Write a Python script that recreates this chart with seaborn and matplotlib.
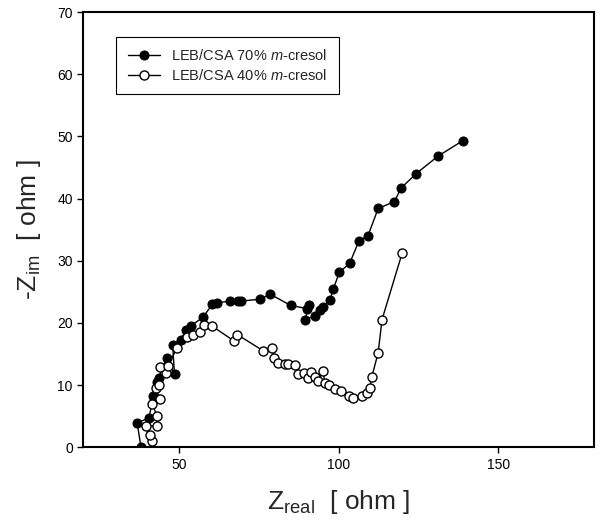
import seaborn as sns
import matplotlib.pyplot as plt
import pandas as pd

# LEB/CSA 70% m-cresol (filled)
z_real_70 = [38.1, 36.9, 40.6, 42.0, 43.0, 43.6, 46.2, 48.6, 48.0, 50.7, 52.1, 53.7, 57.5,
             60.5, 61.9, 65.9, 68.6, 69.5, 75.4, 78.6, 85.0, 90.0, 90.7, 89.5, 92.5, 94.3,
             95.1, 97.3, 98.4, 100.2, 103.5, 106.4, 109.2, 112.4, 117.5, 119.6, 124.3,
             131.1, 138.9]
z_im_70 = [0, 3.9, 4.7, 8.2, 10.5, 11.2, 14.4, 11.7, 16.5, 17.3, 18.9, 19.5, 20.9,
           23.0, 23.2, 23.5, 23.5, 23.5, 23.8, 24.6, 22.8, 22.3, 22.8, 20.5, 21.1, 22.1,
           22.5, 23.7, 25.5, 28.1, 29.6, 33.2, 34.0, 38.4, 39.5, 41.7, 44.0, 46.8, 49.3]

# LEB/CSA 40% m-cresol (open)
z_real_40 = [41.6, 40.8, 39.6, 43.0, 43.2, 41.6, 44.0, 42.8, 43.8, 45.9, 44.0, 46.5, 49.4,
             52.5, 54.5, 56.7, 57.8, 60.3, 67.2, 68.3, 76.4, 79.2, 79.8, 81.0, 83.2, 84.0,
             86.5, 87.4, 89.1, 90.3, 91.3, 92.7, 93.7, 95.1, 95.7, 96.9, 98.9, 100.8, 103.2,
             104.4, 107.4, 108.8, 109.7, 110.4, 112.4, 113.6, 119.9]
z_im_40 = [1.0, 2.0, 3.4, 3.4, 5.0, 6.9, 7.8, 9.5, 10.0, 11.9, 12.9, 13.0, 16.0,
           17.7, 18.1, 18.5, 19.6, 19.5, 17.1, 18.1, 15.5, 15.9, 14.4, 13.6, 13.4, 13.4,
           13.2, 11.7, 12.0, 11.2, 12.1, 11.3, 10.6, 12.2, 10.4, 10.0, 9.3, 9.0, 8.3,
           7.9, 8.3, 8.7, 9.5, 11.3, 15.2, 20.5, 31.2]

label_70 = 'LEB/CSA 70% $\\it{m}$-cresol'
label_40 = 'LEB/CSA 40% $\\it{m}$-cresol'

sns.set_style('ticks')
plt.rcParams['font.family'] = ['Liberation Sans', 'DejaVu Sans']
plt.rcParams['mathtext.fontset'] = 'custom'
plt.rcParams['mathtext.rm'] = 'Liberation Sans'
plt.rcParams['mathtext.it'] = 'Liberation Sans:italic'

df70 = pd.DataFrame({'x': z_real_70, 'y': z_im_70})
df40 = pd.DataFrame({'x': z_real_40, 'y': z_im_40})

fig = plt.figure(figsize=(6.03, 5.23), dpi=100)
ax = fig.add_axes([0.138, 0.145, 0.847, 0.832])

sns.lineplot(data=df70, x='x', y='y', sort=False, estimator=None, ax=ax,
             color='black', lw=1, marker='o', markersize=6.5,
             markerfacecolor='black', markeredgecolor='black', label=label_70)
sns.lineplot(data=df40, x='x', y='y', sort=False, estimator=None, ax=ax,
             color='black', lw=1, marker='o', markersize=6.5,
             markerfacecolor='white', markeredgecolor='black', markeredgewidth=1,
             label=label_40)

ax.set_xlim(20, 180)
ax.set_ylim(0, 70)
ax.set_xticks([50, 100, 150])
ax.set_yticks(range(0, 71, 10))
ax.tick_params(labelsize=10, length=4, width=1, color='black', labelcolor='black')
for s in ax.spines.values():
    s.set_visible(True)
    s.set_linewidth(1.5)
    s.set_color('black')

ax.set_xlabel('Z$_{\\mathrm{real}}$  [ ohm ]', fontsize=19, labelpad=12)
ax.set_ylabel('-Z$_{\\mathrm{im}}$  [ ohm ]', fontsize=19, labelpad=10)

leg = ax.legend(loc='upper left', bbox_to_anchor=(0.05, 0.96), fontsize=10.5,
                frameon=True, fancybox=False, edgecolor='black', framealpha=1,
                handlelength=2.2, borderpad=0.8, labelspacing=0.3)
leg.get_frame().set_linewidth(0.8)

fig.savefig('out.png', dpi=100)
